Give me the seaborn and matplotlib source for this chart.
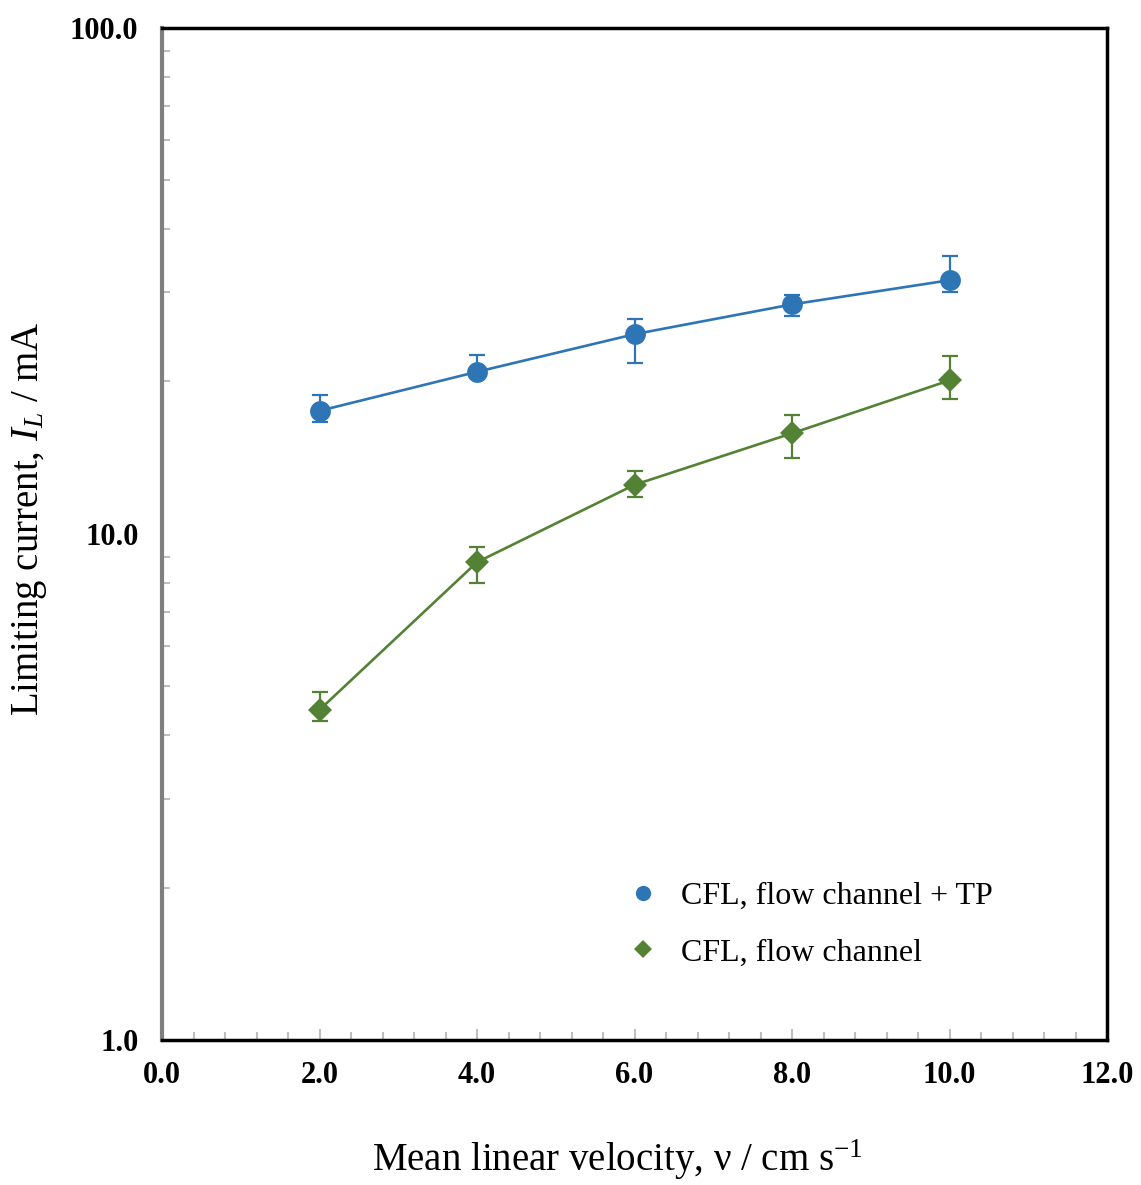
import numpy as np
import pandas as pd
import matplotlib
matplotlib.use("Agg")
import matplotlib.pyplot as plt
import seaborn as sns
from matplotlib.ticker import FixedLocator, FormatStrFormatter, MultipleLocator, LogLocator, NullFormatter
from matplotlib.lines import Line2D

# ---- data ----
velocity = [2, 4, 6, 8, 10]
tp_current = [17.5, 20.9, 24.8, 28.4, 31.7]
tp_err_low = [0.9, 0.6, 3.0, 1.5, 1.7]
tp_err_high = [1.3, 1.65, 1.75, 1.3, 3.7]
ch_current = [4.49, 8.79, 12.5, 15.8, 20.1]
ch_err_low = [0.23, 0.78, 0.65, 1.7, 1.6]
ch_err_high = [0.37, 0.62, 0.78, 1.37, 2.35]
series_names = ["CFL, flow channel + TP", "CFL, flow channel"]
colors = ["#2E75B6", "#548235"]

sns.set_style("white")
plt.rcParams["font.family"] = ["Liberation Serif", "DejaVu Serif"]
plt.rcParams["mathtext.fontset"] = "custom"
plt.rcParams["mathtext.it"] = "Liberation Serif:italic"
plt.rcParams["mathtext.rm"] = "Liberation Serif"
plt.rcParams["text.color"] = "black"
plt.rcParams["axes.labelcolor"] = "black"
plt.rcParams["xtick.color"] = "black"
plt.rcParams["ytick.color"] = "black"

W, H = 1141, 1185
fig = plt.figure(figsize=(W / 100, H / 100), dpi=100)
ax_left, ax_right, ax_top, ax_bottom = 162, 1107, 27.7, 1040
ax = fig.add_axes([ax_left / W, 1 - ax_bottom / H, (ax_right - ax_left) / W, (ax_bottom - ax_top) / H])

df = pd.DataFrame({
    "v": velocity * 2,
    "I": tp_current + ch_current,
    "series": [series_names[0]] * 5 + [series_names[1]] * 5,
})

markers = {series_names[0]: "o", series_names[1]: "D"}
sns.lineplot(data=df, x="v", y="I", hue="series", style="series",
             markers=markers, dashes=False, palette=colors,
             linewidth=1.9, markersize=15, markeredgewidth=0, ax=ax, legend=False,
             zorder=3)
for ln in ax.lines:
    if ln.get_marker() == "D":
        ln.set_markersize(12.5)

ax.errorbar(velocity, tp_current, yerr=[tp_err_low, tp_err_high], fmt="none",
            ecolor=colors[0], elinewidth=1.6, capsize=6, capthick=1.6, zorder=2)
ax.errorbar(velocity, ch_current, yerr=[ch_err_low, ch_err_high], fmt="none",
            ecolor=colors[1], elinewidth=1.6, capsize=6, capthick=1.6, zorder=2)

ax.set_yscale("log")
ax.set_ylim(1, 100)
ax.set_xlim(0, 12)

ax.xaxis.set_major_locator(MultipleLocator(2))
ax.xaxis.set_minor_locator(MultipleLocator(0.4))
ax.xaxis.set_major_formatter(FormatStrFormatter("%.1f"))
ax.yaxis.set_major_locator(FixedLocator([1, 10, 100]))
ax.yaxis.set_major_formatter(FormatStrFormatter("%.1f"))
ax.yaxis.set_minor_locator(LogLocator(base=10, subs=np.arange(2, 10)))
ax.yaxis.set_minor_formatter(NullFormatter())

ax.tick_params(axis="both", which="both", bottom=True, left=True, top=False, right=False)
ax.tick_params(axis="x", which="major", direction="in", length=8, width=1.5,
               color="#BFBFBF", labelcolor="black", labelsize=22, pad=15)
ax.tick_params(axis="y", which="major", direction="in", length=0, width=1.5,
               color="#BFBFBF", labelcolor="black", labelsize=22, pad=17)
ax.tick_params(axis="both", which="minor", direction="in", length=6, width=1.5,
               color="#BFBFBF")
for lab in ax.get_xticklabels() + ax.get_yticklabels():
    lab.set_fontweight("bold")

for side in ["top", "right", "bottom"]:
    ax.spines[side].set_color("black")
    ax.spines[side].set_linewidth(2.5)
ax.spines["left"].set_color("#7F7F7F")
ax.spines["left"].set_linewidth(3)

ax.set_xlabel("Mean linear velocity, ν / cm s$^{\\mathregular{-1}}$", fontsize=28)
ax.set_ylabel("Limiting current, $I_L$ / mA", fontsize=28)
ax.xaxis.label.set_va("center")
ax.yaxis.label.set_va("center")
ax.xaxis.set_label_coords((617 - ax_left) / (ax_right - ax_left), (ax_bottom - 1160) / (ax_bottom - ax_top))
ax.yaxis.set_label_coords((30 - ax_left) / (ax_right - ax_left), (ax_bottom - 519) / (ax_bottom - ax_top))

handles = [Line2D([], [], color=colors[0], marker="o", linestyle="none", markersize=11, markeredgewidth=0),
           Line2D([], [], color=colors[1], marker="D", linestyle="none", markersize=9.5, markeredgewidth=0)]
ax.legend(handles, series_names, loc="upper left",
          bbox_to_anchor=(595 / W, 1 - 853 / H), bbox_transform=fig.transFigure,
          frameon=False, fontsize=23, handletextpad=0.6, labelspacing=0.85,
          handlelength=1.2)

fig.savefig("out.png", dpi=100)
